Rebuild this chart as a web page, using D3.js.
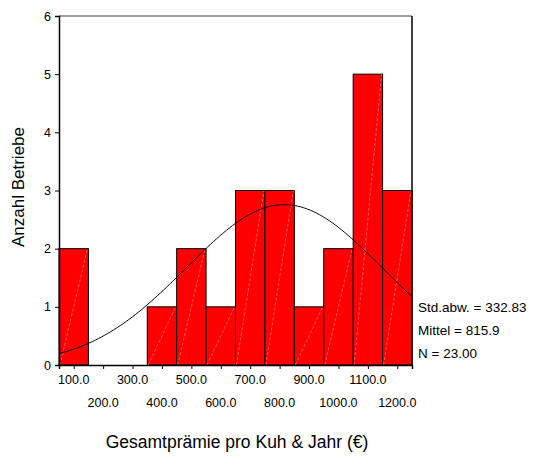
<!DOCTYPE html>
<html>
<head>
<meta charset="utf-8">
<script src="https://cdn.jsdelivr.net/npm/d3@7"></script>
<style>
  body { margin: 0; background: #fff; }
  text { font-family: Arial, "Liberation Sans", sans-serif; fill: #000; }
</style>
</head>
<body>
<div id="chart"></div>
<script>
// bin midpoints and counts
const binMids = [100, 200, 300, 400, 500, 600, 700, 800, 900, 1000, 1100, 1200];
const counts  = [2, 0, 0, 1, 2, 1, 3, 3, 1, 2, 5, 3];
const binWidth = 100;
const yTicks = [0, 1, 2, 3, 4, 5, 6];
const statLabels = ["Std.abw. = 332.83", "Mittel = 815.9", "N = 23.00"];
const stdDev = 332.83, mean = 815.9, total = 23;

const margin = { top: 16, right: 127, bottom: 91, left: 59 },
      width = 539 - margin.left - margin.right,
      height = 456 - margin.top - margin.bottom;

const svg = d3.select("#chart").append("svg")
    .attr("width", 539)
    .attr("height", 456)
  .append("g")
    .attr("transform", "translate(" + margin.left + "," + margin.top + ")");

const x = d3.scaleLinear().domain([50, 1250]).range([0, width]);
const y = d3.scaleLinear().domain([0, 6]).range([height, 0]);

const bins = binMids.map((m, i) => ({ m: m, c: counts[i] })).filter(d => d.c > 0);

// bars
svg.selectAll("rect.bar")
  .data(bins)
  .enter().append("rect")
    .attr("class", "bar")
    .attr("x", d => x(d.m - binWidth / 2))
    .attr("y", d => y(d.c))
    .attr("width", d => x(d.m + binWidth / 2) - x(d.m - binWidth / 2))
    .attr("height", d => y(0) - y(d.c))
    .attr("fill", "#ff0000")
    .attr("stroke", "#000")
    .attr("stroke-width", 1);

// faint diagonal streaks inside the bars
svg.selectAll("line.streak")
  .data(bins)
  .enter().append("line")
    .attr("x1", d => x(d.m - binWidth / 2) + 1)
    .attr("y1", y(0))
    .attr("x2", d => x(d.m + binWidth / 2) - 1)
    .attr("y2", d => y(d.c))
    .attr("stroke", "#ff9a9a")
    .attr("stroke-width", 0.6)
    .attr("stroke-dasharray", "3,2");

// normal curve
const curvePts = d3.range(50, 1251, 5);
const scaleK = total * binWidth / (stdDev * Math.sqrt(2 * Math.PI));
const line = d3.line()
  .x(d => x(d))
  .y(d => y(scaleK * Math.exp(-0.5 * Math.pow((d - mean) / stdDev, 2))))
  .curve(d3.curveBasis);
svg.append("path")
  .datum(curvePts)
  .attr("d", line)
  .attr("fill", "none")
  .attr("stroke", "#000")
  .attr("stroke-width", 1);

// frame
svg.append("line").attr("x1", 0).attr("x2", width).attr("y1", 0).attr("y2", 0)
  .attr("stroke", "#808080").attr("stroke-width", 1.5);
svg.append("line").attr("x1", width).attr("x2", width).attr("y1", 0).attr("y2", height)
  .attr("stroke", "#000").attr("stroke-width", 1.5);

// y axis
const yAxis = svg.append("g")
  .call(d3.axisLeft(y).tickValues(yTicks).tickSize(4).tickPadding(4).tickFormat(d3.format("d")));
yAxis.select(".domain").attr("stroke", "#000").attr("stroke-width", 1.5);
yAxis.selectAll("text").style("font-size", "12.5px").style("font-family", "Arial, 'Liberation Sans', sans-serif");

// x axis
const xAxis = svg.append("g")
  .attr("transform", "translate(0," + height + ")")
  .call(d3.axisBottom(x).tickValues(binMids).tickSize(4).tickFormat(""));
xAxis.select(".domain").attr("stroke", "#000").attr("stroke-width", 1.5);
xAxis.selectAll("line").attr("stroke", "#000");

svg.selectAll("text.xlab")
  .data(binMids)
  .enter().append("text")
    .attr("class", "xlab")
    .attr("x", d => x(d))
    .attr("y", (d, i) => height + (i % 2 === 0 ? 19 : 42))
    .attr("text-anchor", "middle")
    .style("font-size", "12.5px")
    .text(d => d.toFixed(1));

// stats box
svg.selectAll("text.stat")
  .data(statLabels)
  .enter().append("text")
    .attr("class", "stat")
    .attr("x", width + 6)
    .attr("y", (d, i) => 296 + i * 23)
    .style("font-size", "13.5px")
    .text(d => d);

// axis titles
svg.append("text")
  .attr("transform", "rotate(-90)")
  .attr("x", -(187 - margin.top))
  .attr("y", -35)
  .attr("text-anchor", "middle")
  .style("font-size", "17px")
  .text("Anzahl Betriebe");

svg.append("text")
  .attr("x", 237 - margin.left)
  .attr("y", height + 83)
  .attr("text-anchor", "middle")
  .style("font-size", "17.5px")
  .text("Gesamtprämie pro Kuh & Jahr (€)");
</script>
</body>
</html>
